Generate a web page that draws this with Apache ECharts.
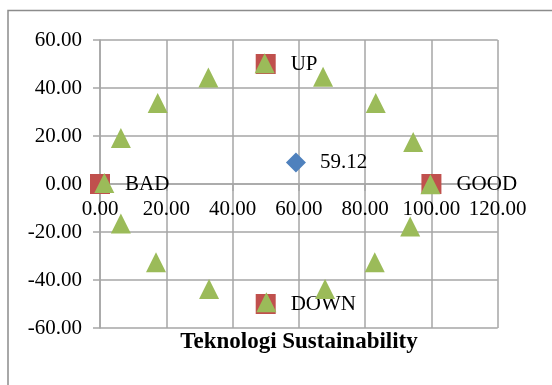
<!DOCTYPE html>
<html>
<head>
<meta charset="utf-8">
<script src="https://cdn.jsdelivr.net/npm/echarts@6/dist/echarts.min.js"></script>
<style>
  html, body { margin: 0; padding: 0; background: #fff; }
  #chart { width: 552px; height: 385px; }
</style>
</head>
<body>
<div id="chart"></div>
<script>
// Ordination anchors (triangles) around the sustainability circle
var anchorX = [1.3, 6.3, 17.4, 32.7, 49.7, 67.3, 83.2, 94.5, 99.7, 93.6, 82.9, 67.9, 50.2, 32.9, 16.9, 6.3];
var anchorY = [0.4, 19.2, 33.8, 44.4, 50.3, 44.7, 33.8, 17.5, -0.1, -17.7, -32.6, -43.7, -49.3, -43.7, -32.6, -16.5];

// Reference points (squares)
var refNames = ['BAD', 'GOOD', 'UP', 'DOWN'];
var refX = [0, 100, 50, 50];
var refY = [0, 0, 50, -50];

// Dimension score (diamond)
var scoreX = [59.12];
var scoreY = [9.0];

var axisTitle = 'Teknologi Sustainability';

var FONT = 'Liberation Serif';
var GRID_COLOR = '#a6a6a6';
var PLOT_HEIGHT = 288;

function zip(xs, ys) {
  return xs.map(function (x, i) { return [x, ys[i]]; });
}

var chart = echarts.init(document.getElementById('chart'), null, { renderer: 'canvas' });

chart.setOption({
  animation: false,
  backgroundColor: '#fff',
  grid: { left: 100, top: 40, right: 54.3, bottom: 385 - 40 - PLOT_HEIGHT, containLabel: false },
  xAxis: {
    type: 'value',
    min: 0, max: 120, interval: 20,
    // the horizontal axis crosses the vertical one at y = 0 (middle of the plot)
    offset: -PLOT_HEIGHT / 2,
    axisLine: { show: true, onZero: false, lineStyle: { color: GRID_COLOR, width: 1.5 } },
    axisTick: { show: true, inside: false, length: 7, lineStyle: { color: GRID_COLOR, width: 1.5 } },
    axisLabel: {
      margin: 15, color: '#000', fontFamily: FONT, fontSize: 21,
      formatter: function (v) { return v.toFixed(2); }
    },
    splitLine: { show: true, lineStyle: { color: GRID_COLOR, width: 1.5 } }
  },
  yAxis: {
    type: 'value',
    min: -60, max: 60, interval: 20,
    axisLine: { show: true, onZero: false, lineStyle: { color: GRID_COLOR, width: 1.5 } },
    axisTick: { show: true, inside: false, length: 7, lineStyle: { color: GRID_COLOR, width: 1.5 } },
    axisLabel: {
      margin: 18, color: '#000', fontFamily: FONT, fontSize: 21,
      formatter: function (v) { return v.toFixed(2); }
    },
    splitLine: { show: true, lineStyle: { color: GRID_COLOR, width: 1.5 } }
  },
  graphic: [
    {
      type: 'rect', silent: true, z: -1,
      shape: { x: 8, y: 10.5, width: 700, height: 500 },
      style: { fill: 'none', stroke: '#8c8c8c', lineWidth: 1.5 }
    },
    {
      type: 'text', silent: true,
      x: 299, y: 342,
      style: {
        text: axisTitle, fill: '#000',
        font: 'bold 23px "' + FONT + '"',
        textAlign: 'center', textVerticalAlign: 'middle'
      }
    }
  ],
  series: [
    {
      type: 'scatter', name: 'Reference',
      symbol: 'rect', symbolSize: 20, z: 2,
      itemStyle: { color: '#C0504D', opacity: 1 },
      data: zip(refX, refY).map(function (p, i) {
        return { value: p, name: refNames[i] };
      }),
      label: {
        show: true, position: 'right', distance: 15,
        color: '#000', fontFamily: FONT, fontSize: 21,
        formatter: function (p) { return p.name; }
      },
      labelLayout: { hideOverlap: false }
    },
    {
      type: 'scatter', name: 'Anchors',
      symbol: 'triangle', symbolSize: 20, z: 3,
      itemStyle: { color: '#9BBB59', opacity: 1 },
      data: zip(anchorX, anchorY)
    },
    {
      type: 'scatter', name: 'Score',
      symbol: 'diamond', symbolSize: 20, z: 4,
      itemStyle: { color: '#4F81BD', opacity: 1 },
      data: zip(scoreX, scoreY),
      label: {
        show: true, position: 'right', distance: 14,
        color: '#000', fontFamily: FONT, fontSize: 21,
        formatter: function (p) { return p.value[0].toFixed(2); }
      }
    }
  ]
});
</script>
</body>
</html>
